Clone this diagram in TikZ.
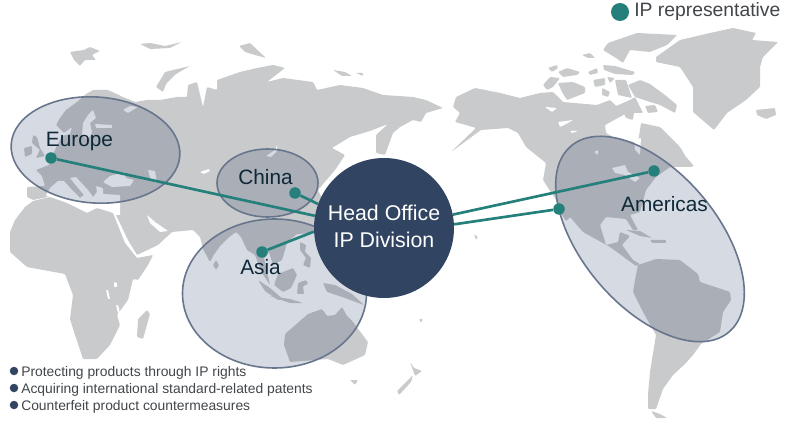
\documentclass[tikz,border=0pt]{standalone}
\usepackage{fontspec}
\setmainfont{Liberation Sans}
\usetikzlibrary{shapes.geometric, positioning, calc}
\definecolor{mapgrey}{RGB}{201,202,204}
\definecolor{regiontint}{RGB}{14,37,84}
\definecolor{regionline}{RGB}{104,118,141}
\definecolor{tealdot}{RGB}{37,128,123}
\definecolor{navy}{RGB}{49,68,98}
\definecolor{inkdark}{RGB}{14,40,56}
\definecolor{inkgrey}{RGB}{66,70,74}
\def\px{0.75pt}

\begin{document}
\begin{tikzpicture}[
        x=\px, y=-\px,
        land/.style={fill=mapgrey, rounded corners=0.7pt},
        sea/.style={fill=white, rounded corners=0.5pt},
        region/.style={ellipse, draw=regionline, line width=1.2pt, fill=regiontint, fill opacity=0.17, draw opacity=1, inner sep=0pt},
        repdot/.style={circle, fill=tealdot, inner sep=0pt, minimum size=11.5*\px},
        link/.style={draw=tealdot, line width=2pt},
        regionname/.style={font=\fontsize{15.6}{18}\selectfont, text=inkdark, inner sep=0pt},
        officetext/.style={font=\fontsize{16}{20.2}\selectfont, text=white, align=center},
        bullet/.style={circle, fill=navy, inner sep=0pt, minimum size=8.5*\px},
        task/.style={font=\fontsize{10.4}{12}\selectfont, text=inkgrey, anchor=west, inner sep=0pt}
    ]
        \useasboundingbox (0,0) rectangle (786,424);

        % eurasia
        \fill[land] (27,197) -- (27,187) -- (45,186) -- (42,176) -- (36,170) -- (49,165) -- (55,150) -- (62,136) -- (70,134) -- (72,127) -- (64,133) -- (56,125) -- (60,118) -- (66,110) -- (77,102) -- (86,94) -- (93,90) -- (108,90) -- (123,97) -- (135,102) -- (147,100) -- (160,100) -- (177,97) -- (187,97) -- (188,85) -- (197,82) -- (203,107) -- (207,87) -- (217,90) -- (217,80) -- (240,72) -- (257,68) -- (273,65) -- (285,68) -- (267,82) -- (283,78) -- (313,82) -- (317,90) -- (340,85) -- (363,88) -- (383,95) -- (413,97) -- (426,100) -- (443,108) -- (426,113) -- (421,122) -- (413,120) -- (400,127) -- (393,133) -- (385,155) -- (376,153) -- (376,135) -- (388,124) -- (370,131) -- (350,137) -- (332,148) -- (345,155) -- (335,170) -- (318,190) -- (330,215) -- (313,233) -- (297,234) -- (287,242) -- (285,250) -- (282,260) -- (273,265) -- (269,252) -- (264,258) -- (270,285) -- (262,273) -- (255,255) -- (247,250) -- (241,237) -- (236,232) -- (228,238) -- (220,246) -- (213,256) -- (210,262) -- (203,249) -- (200,237) -- (193,230) -- (172,232) -- (158,245) -- (137,255) -- (128,240) -- (116,215) -- (112,209) -- (120,200) -- (100,200) -- (86,205) -- (75,195) -- (48,197) -- (33,200) -- cycle;
        % islands of the old world
        \fill[land] (33,135) -- (37,137) -- (40,148) -- (45,156) -- (36,158) -- (40,150) -- (32,143) -- cycle;
        \fill[land] (24,148) -- (32,146) -- (32,154) -- (25,157) -- cycle;
        \fill[land] (70,52) -- (84,50) -- (90,47) -- (100,51) -- (92,55) -- (96,60) -- (85,60) -- (80,66) -- (74,60) -- cycle;
        \fill[land] (140,44) -- (150,43) -- (165,46) -- (182,42) -- (170,48) -- (150,49) -- cycle;
        \fill[land] (156,87) -- (165,72) -- (190,66) -- (176,74) -- (166,84) -- (163,92) -- cycle;
        \fill[land] (239,46) -- (250,43) -- (266,58) -- (255,55) -- (245,52) -- cycle;
        \fill[land] (333,70) -- (345,72) -- (352,76) -- (342,76) -- cycle;
        \fill[land] (356,73) -- (363,73) -- (363,76) -- cycle;
        \fill[land] (216,260) -- (219,265) -- (216,270) -- (213,265) -- cycle;
        \fill[land] (274,285) -- (278,274) -- (293,268) -- (297,275) -- (291,288) -- (283,292) -- cycle;
        \fill[land] (258,280) -- (270,288) -- (284,300) -- (278,300) -- (265,291) -- cycle;
        \fill[land] (270,296) -- (290,299) -- (303,303) -- (290,303) -- cycle;
        \fill[land] (298,283) -- (306,280) -- (308,284) -- (303,286) -- (304,294) -- (297,294) -- cycle;
        \fill[land] (300,242) -- (306,245) -- (305,252) -- (311,258) -- (310,268) -- (303,265) -- (306,258) -- (300,250) -- cycle;
        \fill[land] (323,283) -- (335,285) -- (352,294) -- (364,305) -- (345,298) -- (327,292) -- cycle;
        \fill[land] (285,334) -- (308,314) -- (322,309) -- (327,316) -- (335,315) -- (342,307) -- (347,316) -- (353,322) -- (368,342) -- (365,355) -- (343,365) -- (328,359) -- (315,360) -- (290,362) -- (284,345) -- cycle;
        \fill[land] (350,380) -- (358,380) -- (355,385) -- cycle;
        \fill[land] (410,362) -- (414,368) -- (422,371) -- (415,376) -- cycle;
        \fill[land] (413,375) -- (411,382) -- (399,395) -- (397,391) -- cycle;
        \fill[land] (474,234) -- (478,237) -- (476,240) -- cycle;
        \fill[land] (419,319) -- (423,319) -- (421,323) -- cycle;
        % north america
        \fill[land] (453,107) -- (456,97) -- (475,88) -- (500,93) -- (520,98) -- (540,93) -- (553,92) -- (563,102) -- (597,105) -- (610,100) -- (616,106) -- (630,100) -- (635,97) -- (643,113) -- (627,113) -- (605,125) -- (606,133) -- (613,137) -- (638,143) -- (641,123) -- (660,127) -- (680,147) -- (686,157) -- (693,167) -- (670,167) -- (656,177) -- (646,190) -- (640,212) -- (630,215) -- (638,230) -- (633,230) -- (626,219) -- (606,217) -- (600,225) -- (606,245) -- (618,242) -- (620,232) -- (630,236) -- (622,245) -- (633,260) -- (640,264) -- (636,266) -- (610,247) -- (583,232) -- (570,217) -- (566,221) -- (560,212) -- (556,200) -- (543,180) -- (546,163) -- (526,147) -- (518,133) -- (508,128) -- (481,130) -- (451,152) -- (476,128) -- (466,125) -- (455,122) -- (460,113) -- cycle;
        \fill[land] (680,160) -- (686,157) -- (694,166) -- (684,165) -- cycle;
        \fill[land] (626,230) -- (640,231) -- (652,238) -- (640,236) -- cycle;
        \fill[land] (650,240) -- (666,240) -- (666,243) -- (652,243) -- cycle;
        % arctic islands
        \fill[land] (608,43) -- (637,33) -- (677,35) -- (667,45) -- (650,52) -- (630,50) -- (623,63) -- (616,58) -- (603,50) -- cycle;
        \fill[land] (603,65) -- (615,66) -- (635,72) -- (633,75) -- (615,74) -- (604,70) -- cycle;
        \fill[land] (640,80) -- (650,84) -- (665,95) -- (677,105) -- (675,113) -- (660,105) -- (650,102) -- (635,97) -- (628,85) -- cycle;
        \fill[land] (558,83) -- (573,82) -- (585,87) -- (585,93) -- (567,100) -- (562,92) -- cycle;
        \fill[land] (543,85) -- (550,77) -- (560,78) -- (553,87) -- (547,90) -- cycle;
        \fill[land] (548,68) -- (557,65) -- (558,68) -- (552,72) -- cycle;
        \fill[land] (558,72) -- (567,68) -- (580,72) -- (577,75) -- (563,77) -- cycle;
        \fill[land] (588,72) -- (597,68) -- (598,73) -- (590,75) -- cycle;
        \fill[land] (593,80) -- (605,78) -- (605,85) -- (595,87) -- cycle;
        \fill[land] (607,77) -- (615,78) -- (610,83) -- cycle;
        \fill[land] (602,88) -- (610,92) -- (608,97) -- (602,95) -- cycle;
        \fill[land] (615,80) -- (626,80) -- (632,98) -- (618,95) -- cycle;
        \fill[land] (582,55) -- (590,53) -- (595,58) -- (588,58) -- cycle;
        \fill[land] (623,112) -- (634,112) -- (633,120) -- (626,118) -- cycle;
        \fill[land] (645,106) -- (655,105) -- (658,112) -- (648,113) -- cycle;
        % greenland and iceland
        \fill[land] (656,57) -- (680,40) -- (710,33) -- (733,28) -- (756,33) -- (752,40) -- (778,42) -- (763,57) -- (760,67) -- (760,87) -- (746,100) -- (727,113) -- (714,130) -- (693,112) -- (693,87) -- (680,67) -- (656,62) -- cycle;
        \fill[land] (756,110) -- (775,108) -- (776,115) -- (766,119) -- (757,115) -- cycle;
        % south america
        \fill[land] (638,265) -- (656,259) -- (680,260) -- (698,274) -- (700,282) -- (730,292) -- (731,300) -- (723,312) -- (720,332) -- (701,344) -- (693,355) -- (685,364) -- (673,375) -- (663,389) -- (656,409) -- (648,409) -- (648,394) -- (650,372) -- (656,335) -- (643,312) -- (633,292) -- (635,280) -- cycle;
        \fill[land] (651,411) -- (660,414) -- (667,418) -- (656,418) -- cycle;
        % inland water
        \fill[sea] (93,110) -- (88,115) -- (83,123) -- (82,135) -- (88,140) -- (92,132) -- (90,123) -- (96,118) -- cycle;
        \fill[sea] (95,124) -- (112,125) -- (112,128) -- (96,128) -- cycle;
        \fill[sea] (123,110) -- (130,106) -- (138,107) -- (128,113) -- cycle;
        \fill[sea] (103,182) -- (110,176) -- (124,172) -- (126,178) -- (134,180) -- (130,186) -- (112,187) -- cycle;
        \fill[sea] (148,170) -- (155,171) -- (157,183) -- (151,181) -- cycle;
        \fill[sea] (46,195) -- (50,188) -- (58,181) -- (64,181) -- (72,190) -- (80,198) -- (84,195) -- (78,188) -- (70,178) -- (76,177) -- (88,190) -- (93,197) -- (97,192) -- (96,186) -- (103,188) -- (103,194) -- (120,195) -- (120,215) -- (87,215) -- (50,199) -- cycle;
        \fill[sea] (200,172) -- (209,169) -- (210,171) -- (204,174) -- cycle;
        \fill[sea] (266,156) -- (275,150) -- (277,145) -- (277,151) -- (271,157) -- cycle;
        \fill[sea] (147,215) -- (155,222) -- (168,231) -- (160,232) -- (150,223) -- cycle;
        \fill[sea] (545,107) -- (557,108) -- (552,112) -- cycle;
        \fill[sea] (558,122) -- (573,120) -- (566,124) -- (560,127) -- cycle;
        \fill[sea] (570,131) -- (578,131) -- (572,133) -- cycle;
        \fill[sea] (634,140) -- (641,138) -- (640,155) -- (635,150) -- cycle;
        \fill[sea] (612,168) -- (625,165) -- (628,172) -- (640,178) -- (635,182) -- (625,175) -- (615,173) -- cycle;
        \fill[sea] (594,152) -- (598,150) -- (598,155) -- cycle;
        % africa
        \fill[land] (25,207) -- (33,201) -- (50,197) -- (67,203) -- (87,213) -- (97,208) -- (113,213) -- (125,243) -- (137,258) -- (153,255) -- (148,265) -- (138,280) -- (133,279) -- (128,300) -- (117,315) -- (120,325) -- (110,345) -- (97,359) -- (83,359) -- (75,335) -- (70,319) -- (73,295) -- (65,274) -- (43,270) -- (27,267) -- (10,252) -- (10,232) -- (15,220) -- cycle;
        \fill[land] (147,310) -- (150,314) -- (143,339) -- (137,337) -- (138,319) -- cycle;
        \fill[sea] (114,282) -- (117,283) -- (117,287) -- (114,287) -- cycle;
        \fill[sea] (106,290) -- (108,290) -- (110,299) -- (108,299) -- cycle;
        \fill[sea] (116,305) -- (118,305) -- (120,313) -- (118,313) -- cycle;

        % regions
        \node[region, minimum width=169*\px, minimum height=106*\px, rotate=-4] (europe) at (95.5,150) {};
        \node[region, minimum width=101*\px, minimum height=68*\px] (china) at (267.5,183) {};
        \node[region, minimum width=184*\px, minimum height=149*\px] (asia) at (274.5,293.5) {};
        \node[region, minimum width=244*\px, minimum height=135*\px, rotate=-49.6] (americas) at (650,239) {};

        % representatives
        \node[repdot] (eurodot) at (51,158) {};
        \node[repdot] (chinadot) at (295,193) {};
        \node[repdot] (asiadot) at (262,252) {};
        \node[repdot] (eastdot) at (654,171) {};
        \node[repdot] (westdot) at (559,209) {};
        \node[circle, fill=navy, inner sep=0pt, minimum size=140*\px] (office) at (384,228) {};
        \node[officetext] (officelabel) at (384,226.5) {Head Office\\IP Division};

        \draw[link] (eurodot) -- (office.170);
        \draw[link] (chinadot) -- (office.160);
        \draw[link] (asiadot) -- (office.183);
        \draw[link] (eastdot) -- (office.11);
        \draw[link] (westdot) -- (office.3);

        \node[regionname] (eurolabel) at (79.5,142) {Europe};
        \node[regionname] (chinalabel) at (265.5,177) {China};
        \node[regionname] (asialabel) at (260.5,267) {Asia};
        \node[regionname] (americaslabel) at (664.5,204) {Americas};

        % legend
        \node[repdot, minimum size=18*\px] (legenddot) at (620,12) {};
        \node[font=\fontsize{14.5}{17}\selectfont, text=inkgrey, anchor=west, inner sep=0pt] (legendlabel) at (634,12) {IP representative};

        \node[bullet] (bulleta) at (14,371) {};
        \node[bullet] (bulletb) at (14,388) {};
        \node[bullet] (bulletc) at (14,405) {};
        \node[task] (taska) at (21,373) {Protecting products through IP rights};
        \node[task] (taskb) at (21,389.5) {Acquiring international standard-related patents};
        \node[task] (taskc) at (21,407) {Counterfeit product countermeasures};
    \end{tikzpicture}
\end{document}
